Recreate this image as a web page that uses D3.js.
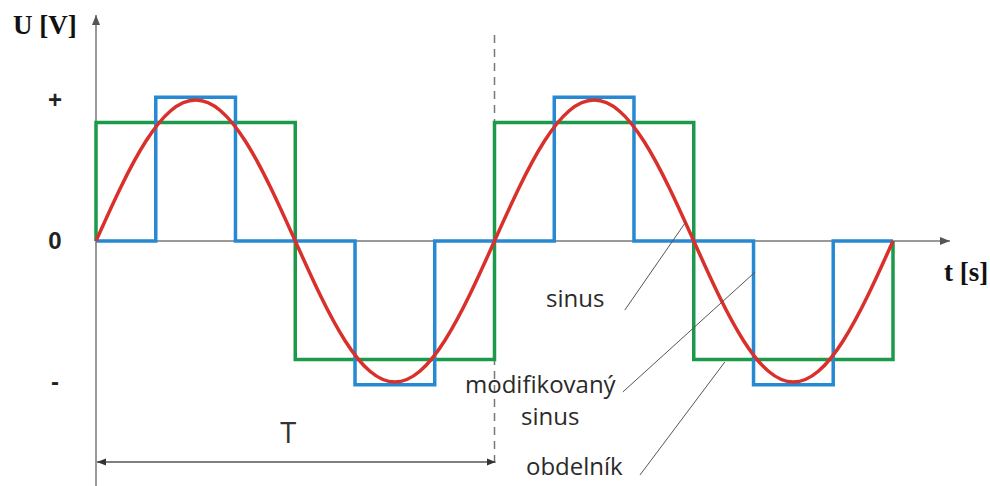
<!DOCTYPE html>
<html>
<head>
<meta charset="utf-8">
<script src="https://cdn.jsdelivr.net/npm/d3@7/dist/d3.min.js"></script>
<style>
  html, body { margin: 0; padding: 0; background: #fff; }
  svg { display: block; }
</style>
</head>
<body>
<svg id="chart" width="990" height="486"></svg>
<script>
// ---- data (time in periods, voltage relative to sine amplitude) ----
const sineT = [0, 0.0625, 0.125, 0.1875, 0.25, 0.3125, 0.375, 0.4375, 0.5,
  0.5625, 0.625, 0.6875, 0.75, 0.8125, 0.875, 0.9375, 1,
  1.0625, 1.125, 1.1875, 1.25, 1.3125, 1.375, 1.4375, 1.5,
  1.5625, 1.625, 1.6875, 1.75, 1.8125, 1.875, 1.9375, 2];
const sineU = [0, 0.383, 0.707, 0.924, 1, 0.924, 0.707, 0.383, 0,
  -0.383, -0.707, -0.924, -1, -0.924, -0.707, -0.383, 0,
  0.383, 0.707, 0.924, 1, 0.924, 0.707, 0.383, 0,
  -0.383, -0.707, -0.924, -1, -0.924, -0.707, -0.383, 0];

const modT = [0, 0.15, 0.35, 0.65, 0.85, 1.15, 1.35, 1.65, 1.85, 2];
const modU = [0, 1.02, 0, -1.02, 0, 1.02, 0, -1.02, 0, 0];

const rectT = [0, 0, 0.5, 1, 1.5, 2, 2];
const rectU = [0, 0.84, -0.84, 0.84, -0.84, 0, 0];

const yTickValues = [1, 0, -1];
const yTickLabels = ["+", "0", "-"];
const periodMark = 1;

const labels = ["sinus", "modifikovaný", "sinus", "obdelník"];

// ---- scales ----
const svg = d3.select("#chart");
const x = d3.scaleLinear().domain([0, 2]).range([96, 893]);
const y = d3.scaleLinear().domain([-1, 1]).range([382, 100]);

const defs = svg.append("defs");
defs.append("marker").attr("id", "axArrow")
  .attr("viewBox", "0 0 10 10").attr("refX", 10).attr("refY", 5)
  .attr("markerWidth", 10).attr("markerHeight", 10)
  .attr("markerUnits", "userSpaceOnUse").attr("orient", "auto")
  .append("path").attr("d", "M0,1 L10,5 L0,9 Z").attr("fill", "#555");
defs.append("marker").attr("id", "dimArrow")
  .attr("viewBox", "0 0 10 10").attr("refX", 10).attr("refY", 5)
  .attr("markerWidth", 9).attr("markerHeight", 9)
  .attr("markerUnits", "userSpaceOnUse").attr("orient", "auto-start-reverse")
  .append("path").attr("d", "M0,1 L10,5 L0,9 Z").attr("fill", "#333");

// ---- axes ----
const x0 = x(0), y0 = y(0);
svg.append("line").attr("x1", x0).attr("y1", 486).attr("x2", x0).attr("y2", 15)
  .attr("stroke", "#999").attr("stroke-width", 2).attr("marker-end", "url(#axArrow)");
svg.append("line").attr("x1", x0).attr("y1", y0).attr("x2", 950).attr("y2", y0)
  .attr("stroke", "#777").attr("stroke-width", 1.5).attr("marker-end", "url(#axArrow)");

const yAxis = d3.axisLeft(y).tickValues(yTickValues)
  .tickFormat((d, i) => yTickLabels[i]).tickSize(0);
const yg = svg.append("g").attr("transform", `translate(${x0},0)`).call(yAxis);
yg.select(".domain").remove();
yg.selectAll("text")
  .attr("x", -41).attr("text-anchor", "middle")
  .attr("font-family", "'Liberation Sans', Arial, sans-serif")
  .attr("font-weight", "bold").attr("font-size", 24).attr("fill", "#222");

svg.append("text").attr("x", 13).attr("y", 34)
  .attr("font-family", "'Liberation Serif', 'Times New Roman', serif")
  .attr("font-weight", "bold").attr("font-size", 27).attr("fill", "#111")
  .text("U [V]");
svg.append("text").attr("x", 944).attr("y", 281)
  .attr("font-family", "'Liberation Serif', 'Times New Roman', serif")
  .attr("font-weight", "bold").attr("font-size", 27).attr("fill", "#111")
  .text("t [s]");

// ---- period marker ----
svg.append("line").attr("x1", x(periodMark)).attr("x2", x(periodMark))
  .attr("y1", 35).attr("y2", 466)
  .attr("stroke", "#777").attr("stroke-width", 1.5).attr("stroke-dasharray", "8,6");
svg.append("line").attr("x1", x(0) + 1).attr("x2", x(periodMark) + 1)
  .attr("y1", 462).attr("y2", 462)
  .attr("stroke", "#555").attr("stroke-width", 1.5)
  .attr("marker-start", "url(#dimArrow)").attr("marker-end", "url(#dimArrow)");
svg.append("text").attr("x", x(periodMark / 2) - 7).attr("y", 443)
  .attr("text-anchor", "middle")
  .attr("font-family", "'Open Sans', sans-serif").attr("font-size", 29).attr("fill", "#333")
  .text("T");

// ---- waveforms ----
const line = d3.line().x(d => x(d[0])).y(d => y(d[1]));
svg.append("path")
  .attr("d", line.curve(d3.curveStepAfter)(rectT.map((t, i) => [t, rectU[i]])))
  .attr("fill", "none").attr("stroke", "#1c9a4b").attr("stroke-width", 3.5);
svg.append("path")
  .attr("d", line.curve(d3.curveStepAfter)(modT.map((t, i) => [t, modU[i]])))
  .attr("fill", "none").attr("stroke", "#2689d2").attr("stroke-width", 3.5);
svg.append("path")
  .attr("d", line.curve(d3.curveNatural)(sineT.map((t, i) => [t, sineU[i]])))
  .attr("fill", "none").attr("stroke", "#d9302b").attr("stroke-width", 3.5);

// ---- annotations ----
const leaders = [
  { from: [1.327, -0.49], to: [1.48, 0.135] },
  { from: [1.322, -1.071], to: [1.654, -0.22] },
  { from: [1.365, -1.66], to: [1.578, -0.858] }
];
leaders.forEach(l => {
  svg.append("line")
    .attr("x1", x(l.from[0])).attr("y1", y(l.from[1]))
    .attr("x2", x(l.to[0])).attr("y2", y(l.to[1]))
    .attr("stroke", "#555").attr("stroke-width", 1);
});
const labelPos = [[546, 307], [465, 393], [521, 425], [526, 475]];
labels.forEach((s, i) => {
  svg.append("text").attr("x", labelPos[i][0]).attr("y", labelPos[i][1])
    .attr("font-family", "'Open Sans', sans-serif").attr("font-size", 24)
    .attr("fill", "#2a2a2a").text(s);
});
</script>
</body>
</html>
